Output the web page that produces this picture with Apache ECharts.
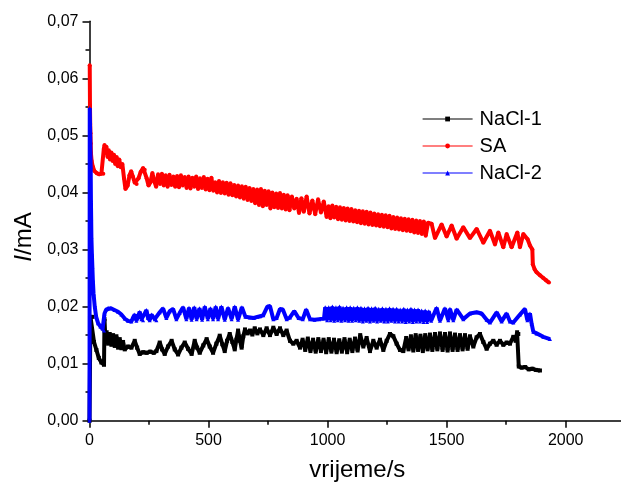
<!DOCTYPE html>
<html>
<head>
<meta charset="utf-8">
<script src="https://cdn.jsdelivr.net/npm/echarts@6/dist/echarts.min.js"></script>
<style>
html,body{margin:0;padding:0;background:#fff;}
#chart{width:621px;height:486px;}
</style>
</head>
<body>
<div id="chart"></div>
<script>
var seriesNames = ['NaCl-1', 'SA', 'NaCl-2'];
var xTicks = [0, 500, 1000, 1500, 2000];
var yTicks = [0, 0.01, 0.02, 0.03, 0.04, 0.05, 0.06, 0.07];

var nacl1 = [
[0,0],[4,0.0182],[12,0.0182],[19,0.0138],[29,0.0124],[39,0.0110],[50,0.0102],[61,0.0098],
[63,0.0178],[67,0.0140],[72,0.0155],[78,0.0135],[85,0.0152],[92,0.0133],[99,0.0150],[106,0.0131],
[113,0.0148],[120,0.0128],[127,0.0143],[134,0.0127],[141,0.0138],[148,0.0125],[162,0.0130],[176,0.0128],
[190,0.0140],[200,0.0128],[211,0.0117],[225,0.0120],[240,0.0119],[255,0.0121],[270,0.0119],[281,0.0122],
[295,0.0137],[305,0.0125],[316,0.0117],[330,0.0130],[345,0.0140],[358,0.0125],[372,0.0116],[386,0.0128],
[400,0.0137],[414,0.0126],[429,0.0117],[442,0.0140],[452,0.0128],[463,0.0119],[478,0.0132],[492,0.0143],
[505,0.0130],[519,0.0119],[533,0.0135],[547,0.0149],[558,0.0134],[568,0.0122],[578,0.0140],[589,0.0152],
[600,0.0138],[610,0.0125],[617,0.0142],[624,0.0158],[632,0.0140],[639,0.0128],[646,0.0148],[653,0.0160],
[664,0.0153],[674,0.0158],[684,0.0151],[694,0.0162],[705,0.0153],[716,0.0160],[730,0.0150],[744,0.0162],
[758,0.0150],[772,0.0163],[786,0.0152],[800,0.0162],[814,0.0150],[828,0.0158],[842,0.0140],[856,0.0135],
[870,0.0140],[884,0.0128],[895,0.0142],[906,0.0124],[917,0.0144],[928,0.0122],[939,0.0142],[950,0.0121],
[961,0.0143],[972,0.0122],[983,0.0142],[994,0.0120],[1005,0.0143],[1016,0.0121],[1027,0.0142],[1038,0.0120],
[1049,0.0141],[1060,0.0121],[1071,0.0143],[1082,0.0120],[1093,0.0142],[1104,0.0122],[1115,0.0144],[1126,0.0123],
[1137,0.0150],[1150,0.0130],[1164,0.0145],[1178,0.0122],[1192,0.0140],[1206,0.0128],[1220,0.0142],[1234,0.0124],
[1248,0.0140],[1262,0.0152],[1276,0.0148],[1290,0.0135],[1304,0.0124],[1318,0.0122],[1330,0.0145],[1340,0.0125],
[1350,0.0148],[1360,0.0123],[1370,0.0150],[1380,0.0124],[1390,0.0149],[1400,0.0122],[1410,0.0150],[1420,0.0125],
[1430,0.0151],[1440,0.0124],[1451,0.0152],[1461,0.0125],[1472,0.0153],[1483,0.0124],[1493,0.0152],[1504,0.0123],
[1514,0.0153],[1525,0.0124],[1535,0.0151],[1546,0.0124],[1556,0.0150],[1567,0.0125],[1577,0.0150],[1588,0.0126],
[1598,0.0148],[1612,0.0130],[1626,0.0146],[1640,0.0152],[1654,0.0138],[1668,0.0126],[1682,0.0135],[1696,0.0140],
[1710,0.0133],[1724,0.0140],[1738,0.0133],[1752,0.0137],[1766,0.0135],[1780,0.0147],[1790,0.0140],[1796,0.0155],
[1801,0.0152],[1803,0.0095],[1815,0.0093],[1830,0.0094],[1845,0.0090],[1860,0.0091],[1875,0.0089],[1892,0.0088]
];

var sa = [
[1,0.0623],[2,0.0553],[3,0.0520],[4,0.0504],[5,0.0486],[6,0.0469],[9,0.0455],[14,0.0445],[20,0.0438],
[30,0.0434],[40,0.0432],[50,0.0433],[58,0.0433],[60,0.0476],[63,0.0483],[67,0.0470],[71,0.0480],[76,0.0462],
[81,0.0474],[86,0.0458],[92,0.0470],[97,0.0455],[103,0.0466],[108,0.0450],[114,0.0462],[119,0.0446],[125,0.0458],
[131,0.0444],[138,0.0450],[145,0.0425],[151,0.0406],[160,0.0412],[168,0.0430],[175,0.0437],[182,0.0428],[190,0.0417],
[198,0.0415],[206,0.0425],[215,0.0436],[225,0.0443],[232,0.0440],[240,0.0425],[248,0.0412],[256,0.0418],[264,0.0434],
[272,0.0420],[280,0.0410],[288,0.0432],[296,0.0415],[304,0.0433],[312,0.0412],[320,0.0430],[328,0.0410],[336,0.0431],
[344,0.0413],[352,0.0428],[360,0.0410],[368,0.0429],[376,0.0409],[384,0.0430],[392,0.0412],[400,0.0427],[408,0.0408],
[416,0.0428],[424,0.0407],[432,0.0426],[440,0.0410],[448,0.0428],[456,0.0406],[464,0.0425],[472,0.0408],[480,0.0427],
[488,0.0405],[496,0.0424],[504,0.0404],[512,0.0426],[520,0.0403],[528,0.0418],[536,0.0400],[544,0.0420],[552,0.0399],
[560,0.0418],[568,0.0398],[576,0.0417],[584,0.0396],[592,0.0416],[600,0.0395],[608,0.0413],[616,0.0393],[624,0.0412],
[632,0.0391],[640,0.0411],[648,0.0389],[656,0.0410],[664,0.0387],[672,0.0408],[680,0.0385],[688,0.0406],[696,0.0381],
[704,0.0405],[712,0.0378],[720,0.0406],[728,0.0376],[736,0.0403],[744,0.0378],[752,0.0402],[760,0.0372],[768,0.0400],
[776,0.0374],[784,0.0398],[792,0.0373],[800,0.0399],[808,0.0372],[816,0.0396],[824,0.0370],[832,0.0395],[840,0.0369],
[850,0.0393],[860,0.0372],[870,0.0389],[880,0.0364],[890,0.0390],[900,0.0366],[912,0.0393],[924,0.0363],[936,0.0386],
[948,0.0362],[960,0.0388],[972,0.0365],[984,0.0384],[996,0.0357],[1004,0.0376],[1012,0.0355],[1020,0.0377],[1028,0.0356],
[1036,0.0375],[1044,0.0353],[1052,0.0374],[1060,0.0352],[1068,0.0373],[1076,0.0351],[1084,0.0372],[1092,0.0350],
[1100,0.0371],[1108,0.0349],[1116,0.0369],[1124,0.0348],[1132,0.0368],[1140,0.0346],[1148,0.0367],[1156,0.0345],
[1164,0.0366],[1172,0.0344],[1180,0.0365],[1188,0.0343],[1196,0.0363],[1204,0.0342],[1212,0.0362],[1220,0.0341],
[1228,0.0361],[1236,0.0340],[1244,0.0360],[1252,0.0339],[1260,0.0359],[1268,0.0337],[1276,0.0357],[1284,0.0336],
[1292,0.0356],[1300,0.0335],[1308,0.0355],[1316,0.0334],[1324,0.0354],[1332,0.0333],[1340,0.0353],[1348,0.0332],
[1356,0.0352],[1364,0.0330],[1372,0.0351],[1380,0.0329],[1388,0.0350],[1396,0.0327],[1404,0.0349],[1412,0.0324],
[1422,0.0347],[1437,0.0345],[1451,0.0320],[1479,0.0344],[1500,0.0323],[1521,0.0342],[1542,0.0319],[1570,0.0339],
[1598,0.0320],[1626,0.0336],[1654,0.0312],[1682,0.0333],[1703,0.0309],[1717,0.0330],[1738,0.0304],[1752,0.0327],
[1773,0.0304],[1797,0.0330],[1808,0.0304],[1822,0.0327],[1840,0.0318],[1850,0.0307],[1860,0.0300],[1862,0.0274],
[1870,0.0265],[1878,0.0260],[1892,0.0255],[1906,0.0250],[1918,0.0246],[1930,0.0242]
];

var nacl2 = [
[0,0],[1,0.0548],[3,0.0500],[5,0.0445],[6,0.0387],[7,0.0355],[8,0.0322],[10,0.0293],[12,0.0270],[14,0.0247],
[17,0.0223],[22,0.0200],[28,0.0182],[36,0.0171],[46,0.0165],[55,0.0161],[61,0.0158],[63,0.0188],[70,0.0195],
[78,0.0198],[90,0.0197],[105,0.0194],[120,0.0191],[134,0.0186],[148,0.0179],[162,0.0175],[176,0.0174],[183,0.0181],
[190,0.0186],[197,0.0175],[204,0.0183],[211,0.0191],[218,0.0178],[225,0.0176],[232,0.0188],[239,0.0194],[246,0.0180],
[253,0.0176],[260,0.0186],[267,0.0184],[274,0.0178],[281,0.0176],[295,0.0190],[309,0.0197],[323,0.0180],[337,0.0192],
[351,0.0196],[365,0.0178],[379,0.0189],[393,0.0199],[407,0.0178],[418,0.0198],[429,0.0177],[440,0.0199],[450,0.0178],
[462,0.0197],[473,0.0177],[484,0.0200],[497,0.0178],[508,0.0197],[519,0.0178],[530,0.0200],[540,0.0178],[554,0.0200],
[568,0.0177],[582,0.0198],[597,0.0178],[610,0.0200],[624,0.0177],[640,0.0199],[655,0.0182],[674,0.0181],[690,0.0180],
[705,0.0182],[716,0.0183],[730,0.0185],[747,0.0200],[758,0.0201],[772,0.0178],[786,0.0180],[800,0.0196],[812,0.0195],
[828,0.0178],[842,0.0181],[860,0.0192],[878,0.0180],[896,0.0178],[910,0.0195],[926,0.0178],[945,0.0177],[965,0.0178],
[985,0.0179],[990,0.0199],[998,0.0176],[1005,0.0199],[1013,0.0176],[1020,0.0200],[1028,0.0175],[1035,0.0199],
[1043,0.0176],[1050,0.0200],[1058,0.0175],[1065,0.0198],[1073,0.0176],[1080,0.0199],[1088,0.0175],[1095,0.0199],
[1103,0.0175],[1110,0.0198],[1118,0.0176],[1125,0.0199],[1133,0.0175],[1140,0.0198],[1148,0.0174],[1155,0.0197],
[1163,0.0175],[1170,0.0198],[1178,0.0174],[1185,0.0197],[1193,0.0175],[1200,0.0198],[1208,0.0174],[1215,0.0196],
[1223,0.0175],[1230,0.0197],[1238,0.0174],[1245,0.0196],[1253,0.0174],[1260,0.0197],[1268,0.0175],[1275,0.0196],
[1283,0.0174],[1290,0.0196],[1298,0.0174],[1305,0.0195],[1313,0.0174],[1320,0.0196],[1328,0.0173],[1335,0.0195],
[1343,0.0174],[1350,0.0196],[1358,0.0173],[1365,0.0195],[1373,0.0174],[1380,0.0195],[1388,0.0174],[1395,0.0193],
[1403,0.0173],[1410,0.0193],[1418,0.0173],[1425,0.0192],[1435,0.0175],[1458,0.0198],[1472,0.0175],[1493,0.0197],
[1507,0.0176],[1514,0.0196],[1528,0.0176],[1542,0.0195],[1570,0.0178],[1598,0.0188],[1626,0.0190],[1647,0.0188],
[1668,0.0177],[1682,0.0172],[1710,0.0190],[1731,0.0174],[1752,0.0188],[1766,0.0174],[1780,0.0172],[1808,0.0186],
[1829,0.0196],[1839,0.0176],[1850,0.0188],[1857,0.0170],[1864,0.0156],[1878,0.0153],[1906,0.0147],[1934,0.0143]
];

var FONT = "'Liberation Sans', Arial, sans-serif";
var chart = echarts.init(document.getElementById('chart'), null, {renderer: 'canvas'});

function fmt(v) { return v.toFixed(2).replace('.', ','); }

var option = {
  animation: false,
  backgroundColor: '#ffffff',
  grid: {left: 89.5, top: 21.3, right: -4.2, bottom: 65.3, containLabel: false, outerBoundsMode: 'none'},
  legend: {
    data: seriesNames,
    orient: 'vertical',
    left: 422,
    top: 107.5,
    padding: 0,
    itemWidth: 50,
    itemHeight: 6,
    itemGap: 4,
    textStyle: {fontFamily: FONT, fontSize: 20, color: '#000', padding: [0, 0, 0, 2], lineHeight: 23},
    lineStyle: {width: 1.2}
  },
  xAxis: {
    type: 'value', min: 0, max: 2250, interval: 500,
    axisLine: {show: true, onZero: false, lineStyle: {color: '#000', width: 1.5}},
    axisTick: {show: true, length: 7, lineStyle: {color: '#000', width: 1.5}},
    minorTick: {show: true, splitNumber: 2, length: 4, lineStyle: {color: '#000', width: 1.5}},
    axisLabel: {fontFamily: FONT, fontSize: 16, color: '#000', margin: 12,
      formatter: function (v) { return xTicks.indexOf(v) >= 0 ? String(v) : ''; }},
    splitLine: {show: false},
    name: 'vrijeme/s', nameLocation: 'middle', nameGap: 38,
    nameTextStyle: {fontFamily: FONT, fontSize: 24, color: '#000'}
  },
  yAxis: {
    type: 'value', min: 0, max: 0.07, interval: 0.01,
    axisLine: {show: true, onZero: false, lineStyle: {color: '#000', width: 1.5}},
    axisTick: {show: true, length: 7, lineStyle: {color: '#000', width: 1.5}},
    minorTick: {show: true, splitNumber: 2, length: 4, lineStyle: {color: '#000', width: 1.5}},
    axisLabel: {fontFamily: FONT, fontSize: 16, color: '#000', margin: 11,
      formatter: function (v) {
        for (var i = 0; i < yTicks.length; i++) { if (Math.abs(yTicks[i] - v) < 1e-9) return fmt(yTicks[i]); }
        return '';
      }},
    splitLine: {show: false}
  },
  graphic: [{
    type: 'text',
    x: 24, y: 237,
    rotation: Math.PI / 2,
    style: {
      text: '{i|I}/mA',
      rich: {i: {fontStyle: 'italic', fontFamily: FONT, fontSize: 24, fill: '#000'}},
      fontFamily: FONT, fontSize: 24, fill: '#000',
      align: 'center', verticalAlign: 'middle'
    }
  }],
  series: [
    {name: 'NaCl-1', type: 'line', data: nacl1, symbol: 'rect', symbolSize: 4, showSymbol: true,
     color: '#000000', lineStyle: {width: 4, color: '#000000'}, itemStyle: {color: '#000000'}, z: 2},
    {name: 'SA', type: 'line', data: sa, symbol: 'circle', symbolSize: 4, showSymbol: true,
     color: '#ff0000', lineStyle: {width: 4, color: '#ff0000'}, itemStyle: {color: '#ff0000'}, z: 3},
    {name: 'NaCl-2', type: 'line', data: nacl2, symbol: 'triangle', symbolSize: 4, showSymbol: true,
     color: '#0000ff', lineStyle: {width: 4, color: '#0000ff'}, itemStyle: {color: '#0000ff'}, z: 4}
  ]
};
chart.setOption(option);
</script>
</body>
</html>
